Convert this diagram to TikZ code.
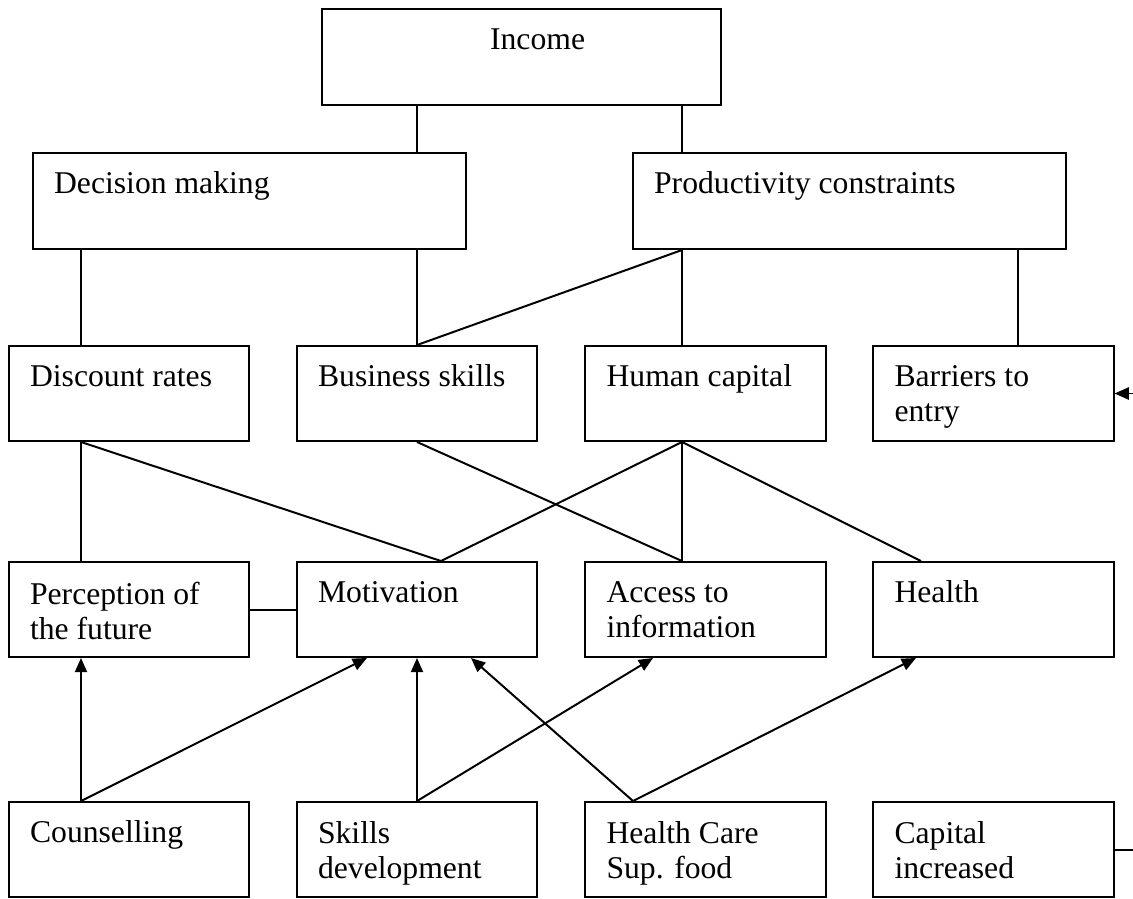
\documentclass[tikz,border=0pt]{standalone}
\usepackage{fontspec}
\setmainfont{Liberation Serif}
\usetikzlibrary{arrows.meta}
\tikzset{cell/.style={draw,rectangle,inner sep=0pt,minimum width=91pt,minimum height=36pt},
  widecell/.style={cell,minimum width=164.1pt,minimum height=36.4pt},
  lbl/.style={anchor=north west,inner sep=0pt,align=left,font=\fontsize{12}{13.3}\selectfont,
    execute at begin node=\strut,yshift=-6.2pt},
  txt/.style={lbl,xshift=8pt},
  txttwo/.style={txt,yshift=-1.3pt}}

\begin{document}
\begin{tikzpicture}[x=0.379pt,y=-0.379pt,line width=0.75pt,>={Triangle[length=5.4pt,width=4.6pt]}]
    \useasboundingbox (0,0) rectangle (1133,898);

    % top two levels
    \node[cell,minimum width=151.2pt,minimum height=36.4pt,label={[lbl,xshift=63.7pt]north west:Income}] (inc) at (521.5,57) {};
    \node[widecell,label={[txt]north west:Decision making}] (dec) at (249.5,201) {};
    \node[widecell,label={[txt]north west:Productivity constraints}] (prod) at (849.5,201) {};

    % the three rows of four
    \node[cell,label={[txt]north west:Discount rates}] (disc) at (129,393.5) {};
    \node[cell,label={[txt]north west:Business skills}] (bus) at (417,393.5) {};
    \node[cell,label={[txt]north west:Human capital}] (hum) at (705.5,393.5) {};
    \node[cell,label={[txttwo]north west:Barriers to\\entry}] (barr) at (993.5,393.5) {};

    \node[cell,label={[txttwo]north west:Perception of\\the future}] (perc) at (129,609.5) {};
    \node[cell,label={[txt]north west:Motivation}] (mot) at (417,609.5) {};
    \node[cell,label={[txttwo]north west:Access to\\information}] (acc) at (705.5,609.5) {};
    \node[cell,label={[txt]north west:Health}] (hlth) at (993.5,609.5) {};

    \node[cell,label={[txt]north west:Counselling}] (couns) at (129,849.5) {};
    \node[cell,label={[txttwo]north west:Skills\\development}] (skill) at (417,849.5) {};
    \node[cell,label={[txttwo]north west:Health Care\\Sup. food}] (hcare) at (705.5,849.5) {};
    \node[cell,label={[txttwo]north west:Capital\\increased}] (cap) at (993.5,849.5) {};

    % plain links
    \draw (inc.south -| 417,0) -- (dec.north -| 417,0);
    \draw (inc.south -| 682,0) -- (prod.north -| 682,0);
    \draw (dec.south -| 81,0) -- (disc.north -| 81,0);
    \draw (dec.south -| 417,0) -- (bus.north);
    \draw (prod.south -| 682,0) -- (bus.north);
    \draw (prod.south -| 682,0) -- (hum.north -| 682,0);
    \draw (prod.south -| 1018,0) -- (barr.north -| 1018,0);
    \draw (disc.south -| 81,0) -- (perc.north -| 81,0);
    \draw (disc.south -| 81,0) -- (mot.north -| 441,0);
    \draw (bus.south) -- (acc.north -| 682,0);
    \draw (hum.south -| 682,0) -- (mot.north -| 441,0);
    \draw (hum.south -| 682,0) -- (acc.north -| 682,0);
    \draw (hum.south -| 682,0) -- (hlth.north -| 921,0);
    \draw (perc.east) -- (mot.west);

    % interventions pointing up
    \draw[->] (couns.north -| 81,0) -- (perc.south -| 81,0);
    \draw[->] (couns.north -| 81,0) -- (mot.south -| 367,0);
    \draw[->] (skill.north) -- (mot.south);
    \draw[->] (skill.north) -- (acc.south -| 653,0);
    \draw[->] (hcare.north -| 633,0) -- (mot.south -| 471,0);
    \draw[->] (hcare.north -| 633,0) -- (hlth.south -| 916,0);
    \draw[->] (cap.east) -- ++(32,0) |- (barr.east);
  \end{tikzpicture}
\end{document}
